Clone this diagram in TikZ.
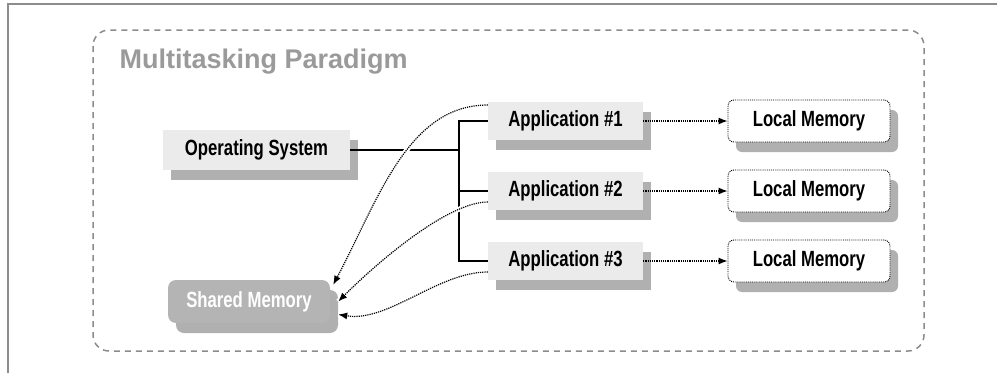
\documentclass[tikz,border=0pt]{standalone}
\usepackage{fontspec}
\setmainfont{Liberation Sans}
\newfontfamily\boxfont{Liberation Sans}[FakeStretch=0.76]
\usetikzlibrary{arrows.meta,shadows}
\definecolor{framegray}{HTML}{8C8C8C}
\definecolor{boxgray}{HTML}{EBEBEB}
\definecolor{shadegray}{HTML}{9C9C9C}
\definecolor{sharedgray}{HTML}{B4B4B4}
\definecolor{titlegray}{HTML}{9A9A9A}

\begin{document}
\begin{tikzpicture}[x=1pt,y=-1pt]
    \tikzstyle{plain box} = [rectangle, fill=boxgray, inner sep=0pt,
      font=\boxfont\fontsize{22}{24}\selectfont\bfseries,
      drop shadow={shadow xshift=8pt, shadow yshift=-10pt, fill=shadegray, opacity=0.8}]
    \tikzstyle{memory box} = [plain box, fill=white, draw=black, densely dotted,
      line width=0.9pt, rounded corners=6pt, minimum width=162pt, minimum height=42pt]
    \tikzstyle{app box} = [plain box, minimum width=155pt, minimum height=38pt]
    \tikzstyle{shared box} = [plain box, fill=sharedgray, text=white, rounded corners=8pt]
    \tikzstyle{tree line} = [line width=1.6pt]
    \tikzstyle{local arrow} = [densely dotted, line width=1.2pt, -{Latex[length=9pt,width=7pt]}]
    \tikzstyle{shared arrow} = [local arrow, preaction={draw=white, solid, line width=5pt, -}]

    \useasboundingbox (0,0) rectangle (997,373);
    % outer frame and paradigm border
    \draw[framegray, line width=2pt] (8,373) -- (8,4) -- (997,4);
    \draw[framegray, dash pattern=on 6pt off 5pt, line width=1.5pt, rounded corners=16pt]
      (93,30) rectangle (924,351);
    \node[anchor=west, text=titlegray, font=\bfseries\fontsize{27}{30}\selectfont]
      (title) at (116,62) {Multitasking Paradigm};

    \node[plain box, minimum width=187pt, minimum height=40pt] (os) at (256.5,150) {Operating System};
    \node[app box] (app1) at (565.5,121) {Application \#1};
    \node[app box] (app2) at (565.5,191) {Application \#2};
    \node[app box] (app3) at (565.5,261) {Application \#3};
    \node[memory box] (local1) at (809,121) {Local Memory};
    \node[memory box] (local2) at (809,191) {Local Memory};
    \node[memory box] (local3) at (809,261) {Local Memory};
    \node[shared box, minimum width=162pt, minimum height=43pt] (shared) at (249,301.5) {Shared Memory};

    % process tree
    \coordinate (bus) at (459,150);
    \draw[tree line] (os.east) -- (bus);
    \draw[tree line] (app1.west) -| (bus);
    \draw[tree line] (app3.west) -| (bus);
    \draw[tree line] (app2.west) -- (app2.west -| bus);

    \draw[local arrow] (app1.east) -- (local1.west);
    \draw[local arrow] (app2.east) -- (local2.west);
    \draw[local arrow] (app3.east) -- (local3.west);

    \draw[shared arrow] ([yshift=16pt]app1.west) .. controls +(-80,0) and +(45,-85) ..
      ([xshift=3pt,yshift=-5pt]shared.north east);
    \draw[shared arrow] ([yshift=-11pt]app2.west) .. controls +(-40,0) and +(40,-40) ..
      ([xshift=8pt]shared.east);
    \draw[shared arrow] ([yshift=-11pt]app3.west) .. controls +(-50,0) and +(50,8) ..
      ([xshift=8pt,yshift=-13pt]shared.east);
\end{tikzpicture}
\end{document}
